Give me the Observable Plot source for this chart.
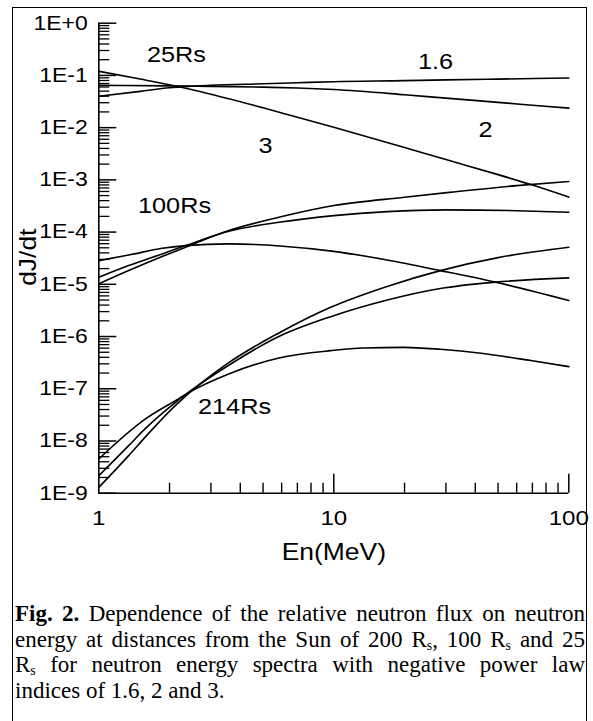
<!DOCTYPE html>
<html><head><meta charset="utf-8">
<script src="https://cdn.jsdelivr.net/npm/d3@7"></script>
<script src="https://cdn.jsdelivr.net/npm/@observablehq/plot@0.6"></script>
<style>
html,body{margin:0;padding:0;background:#fff;}
body{width:593px;height:721px;position:relative;overflow:hidden;}
#frame{position:absolute;left:12px;top:7px;width:575px;height:760px;border:1.6px solid #000;box-sizing:border-box;}
#chart{position:absolute;left:0;top:0;}
#caption{position:absolute;left:15px;top:601px;width:570px;font-family:"Liberation Serif","Times New Roman",serif;font-size:23px;line-height:25.5px;color:#000;}
#caption .j{text-align:justify;text-align-last:justify;}
#caption sub{font-size:0.6em;vertical-align:-0.2em;line-height:0;}
</style>
</head><body>
<div id="frame"></div>
<div id="chart"></div>
<div id="caption">
<div class="j"><b>Fig. 2.</b> Dependence of the relative neutron flux on neutron</div>
<div class="j">energy at distances from the Sun of 200 R<sub>s</sub>, 100 R<sub>s</sub> and 25</div>
<div class="j">R<sub>s</sub> for neutron energy spectra with negative power law</div>
<div>indices of 1.6, 2 and 3.</div>
</div>
<script>
// 25 Rs
const energies25_16 = [1,1.5,2,2.4,3,5,7,10,20,30,50,100];
const flux25_16 = [3.98e-2,4.95e-2,5.82e-2,6.17e-2,6.46e-2,6.92e-2,7.24e-2,7.59e-2,7.94e-2,8.22e-2,8.51e-2,8.91e-2];
const energies25_2 = [1,2,3,5,7,10,20,30,50,70,100];
const flux25_2 = [6.46e-2,6.31e-2,6.17e-2,5.96e-2,5.75e-2,5.37e-2,4.27e-2,3.67e-2,3.05e-2,2.69e-2,2.36e-2];
const energies25_3 = [1,1.5,2,3,5,7,10,20,30,50,70,100];
const flux25_3 = [0.120,8.51e-2,6.61e-2,4.37e-2,2.40e-2,1.58e-2,1.02e-2,4.17e-3,2.45e-3,1.26e-3,7.94e-4,4.68e-4];
// 100 Rs
const energies100_16 = [1,1.34,1.86,2.34,3.57,5.84,10,20,31,60,100];
const flux100_16 = [1.02e-5,1.83e-5,3.40e-5,5.12e-5,1.07e-4,1.92e-4,3.22e-4,4.65e-4,5.75e-4,7.76e-4,9.33e-4];
const energies100_2 = [1,1.34,1.86,2.34,3.57,5.84,10,16.9,30,60,100];
const flux100_2 = [1.36e-5,2.28e-5,3.82e-5,5.51e-5,1.035e-4,1.54e-4,2.07e-4,2.47e-4,2.66e-4,2.57e-4,2.40e-4];
const energies100_3 = [1,1.34,1.86,2.34,3.57,5.9,10,16.6,28.4,48.7,100];
const flux100_3 = [2.84e-5,3.63e-5,4.90e-5,5.51e-5,5.94e-5,5.43e-5,4.27e-5,2.95e-5,1.83e-5,1.10e-5,4.90e-6];
// 214 Rs
const energies214_16 = [1,1.34,1.58,2.12,3.57,5.84,9.7,16.6,28.4,50,100];
const flux214_16 = [1.29e-9,5.25e-9,1.20e-8,4.79e-8,3.16e-7,1.17e-6,3.63e-6,8.91e-6,1.83e-5,3.24e-5,5.12e-5];
const energies214_2 = [1,1.34,1.58,2.12,3.57,5.84,9.7,16.9,28.4,48.7,100];
const flux214_2 = [2.16e-9,8.13e-9,1.74e-8,5.50e-8,2.82e-7,1.0e-6,2.40e-6,5.01e-6,8.32e-6,1.10e-5,1.33e-5];
const energies214_3 = [1,1.58,2.12,2.5,3.57,5.84,9.7,13.4,19.9,28.4,42.3,68.8,100];
const flux214_3 = [4.52e-9,2.64e-8,5.92e-8,9.20e-8,1.92e-7,3.89e-7,5.37e-7,6.04e-7,6.21e-7,5.69e-7,4.79e-7,3.47e-7,2.65e-7];

const seriesIds = ["25Rs-1.6","25Rs-2","25Rs-3","100Rs-1.6","100Rs-2","100Rs-3","214Rs-1.6","214Rs-2","214Rs-3"];
const seriesEnergies = [energies25_16,energies25_2,energies25_3,energies100_16,energies100_2,energies100_3,energies214_16,energies214_2,energies214_3];
const seriesFlux = [flux25_16,flux25_2,flux25_3,flux100_16,flux100_2,flux100_3,flux214_16,flux214_2,flux214_3];

// axis ticks
const yTickValues = [1,1e-1,1e-2,1e-3,1e-4,1e-5,1e-6,1e-7,1e-8,1e-9];
const yTickLabels = ["1E+0","1E-1","1E-2","1E-3","1E-4","1E-5","1E-6","1E-7","1E-8","1E-9"];
const yMinorMultipliers = [2,3,4,5,6,7,8,9];
const xTickValues = [1,10,100];
const xTickLabels = ["1","10","100"];
const xMajorTicks = [10,100];
const xMinorTicks = [2,3,4,5,6,7,8,9,20,30,40,50,60,70,80,90];

// in-plot annotations
const annoText = ["25Rs","1.6","2","3","100Rs","214Rs"];
const annoEnergy = [2.14,27.1,44.2,5.12,2.10,3.78];
const annoFlux = [0.246,0.181,9.2e-3,4.54e-3,3.22e-4,4.54e-8];

const xTitle = "En(MeV)";
const yTitle = "dJ/dt";

const rows = seriesIds.flatMap((id, i) => seriesEnergies[i].map((e, j) => ({id, E: e, v: seriesFlux[i][j]})));
const yMinor = yTickValues.slice(1).flatMap(d => yMinorMultipliers.map(m => d * m));
const yTicks = yTickValues.map((v, i) => ({v, label: yTickLabels[i]}));
const xTicks = xTickValues.map((v, i) => ({v, label: xTickLabels[i]}));
const annos = annoText.map((t, i) => ({t, E: annoEnergy[i], v: annoFlux[i]}));

const W = 593, H = 590;
const mL = 98.3, mR = 24.7, mT = 22.7, mB = 97.3;
const frameW = W - mL - mR, frameH = H - mT - mB;
const font = "'Liberation Sans', Arial, sans-serif";

const chart = Plot.plot({
  width: W, height: H,
  marginLeft: mL, marginRight: mR, marginTop: mT, marginBottom: mB,
  x: {type: "log", domain: [1, 100], axis: null},
  y: {type: "log", domain: [1e-9, 1], axis: null},
  style: {fontFamily: font, background: "transparent", overflow: "visible", color: "#000"},
  marks: [
    Plot.tickY(yMinor, {y: d => d, insetRight: frameW - 11, stroke: "#000", strokeWidth: 1.3}),
    Plot.tickY(yTickValues, {y: d => d, insetRight: frameW - 18, stroke: "#000", strokeWidth: 1.5}),
    Plot.tickX(xMinorTicks, {x: d => d, insetTop: frameH - 10, stroke: "#000", strokeWidth: 1.4}),
    Plot.tickX(xMajorTicks, {x: d => d, insetTop: frameH - 19, stroke: "#000", strokeWidth: 1.5}),
    Plot.ruleX([1], {stroke: "#000", strokeWidth: 1.6}),
    Plot.ruleY([1e-9], {stroke: "#000", strokeWidth: 1.6}),
    Plot.line(rows, {x: "E", y: "v", z: "id", curve: "monotone-x", stroke: "#000", strokeWidth: 1.6}),
    Plot.text(yTicks, {x: () => 1, y: "v", text: "label", textAnchor: "end", dx: -11, fontSize: 20, fill: "#000"}),
    Plot.text(xTicks, {x: "v", y: () => 1e-9, text: "label", lineAnchor: "top", dy: 17, fontSize: 21, fill: "#000"}),
    Plot.text([xTitle], {x: () => 10, y: () => 1e-9, text: d => d, lineAnchor: "top", dy: 50, fontSize: 23, fill: "#000"}),
    Plot.text([yTitle], {frameAnchor: "left", text: d => d, rotate: -90, textAnchor: "middle", lineAnchor: "middle", dx: -70, dy: -1, fontSize: 23, fill: "#000"}),
    Plot.text(annos, {x: "E", y: "v", text: "t", fontSize: 22, fill: "#000"})
  ]
});
document.getElementById("chart").appendChild(chart);
// widen glyphs to match the reference lettering
d3.select(chart).selectAll("text").each(function() {
  const t = this.getAttribute("transform") || "";
  this.setAttribute("transform", (t + " scale(1.15,1)").trim());
});
</script>
</body></html>
